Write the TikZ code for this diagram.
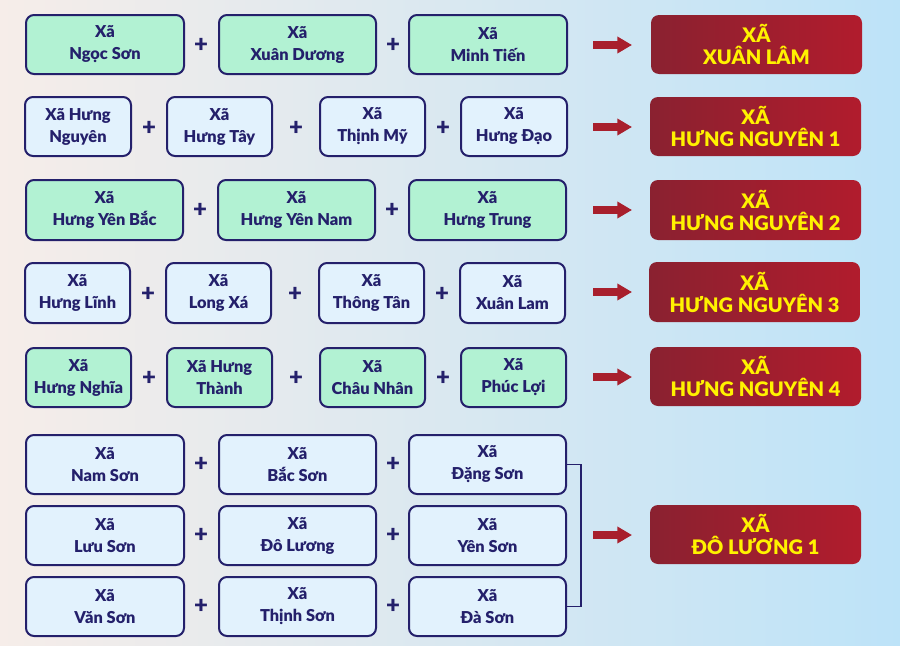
\documentclass[tikz,border=0pt]{standalone}
\usepackage{fontspec}
\setmainfont{Lato}[BoldFont={Lato Black}]
\usetikzlibrary{arrows.meta}
\definecolor{navy}{HTML}{24206B}
\definecolor{mint}{HTML}{B2F2D3}
\definecolor{ice}{HTML}{E2F2FD}
\definecolor{redL}{HTML}{8A2130}
\definecolor{redR}{HTML}{B11C2D}
\definecolor{yel}{HTML}{FFF200}
\definecolor{bgL}{HTML}{F6EDE9}
\definecolor{bgR}{HTML}{BDE3F8}
\definecolor{arr}{HTML}{A81F2C}
\tikzset{
  sbox/.style={draw=navy, line width=1.5pt, rounded corners=6pt, align=center,
    text=navy, inner sep=0pt, font=\bfseries\fontsize{12.3}{16.5}\selectfont},
  gbox/.style={sbox, fill=mint},
  bbox/.style={sbox, fill=ice},
  rbox/.style={rounded corners=6pt, left color=redL, right color=redR, align=center,
    text=yel, inner sep=0pt, font=\bfseries\fontsize{15}{16.5}\selectfont},
  plus/.style={text=navy, inner sep=0pt, font=\bfseries\fontsize{18}{18}\selectfont},
  bigarrow/.style={draw=arr, line width=6pt, -{Triangle[length=11pt,width=12pt]}},
  brk/.style={draw=navy, line width=1.2pt}
}
\newcommand\bx[7]{\node[#2, minimum width={(#5-#3)*0.75pt}, minimum height={(#6-#4)*0.75pt}] (#1) at ({(#3+#5)/2},{(#4+#6)/2}) {#7};}
\newcommand\pl[3]{\node[plus] (#1) at (#2,#3) {+};}
\newcommand\ar[3]{\coordinate (#1s) at (593,#3); \coordinate (#1e) at (632,#3); \draw[bigarrow] (#1s) -- (#1e);}
\begin{document}
\begin{tikzpicture}[x=0.75pt,y=-0.75pt]
\fill[left color=bgL, right color=bgR] (0,0) rectangle (900,646);
\useasboundingbox (0,0) rectangle (900,646);
% Row 1
\bx{r1a}{gbox}{26}{15}{184}{74}{Xã\\Ngọc Sơn}
\bx{r1b}{gbox}{219}{15}{376}{74}{Xã\\Xuân Dương}
\bx{r1c}{gbox}{409}{15}{567}{74}{Xã\\Minh Tiến}
\pl{p1a}{201}{45}\pl{p1b}{393}{45}
\ar{a1}{}{45}
\bx{t1}{rbox}{651}{15}{862}{74}{XÃ\\XUÂN LÂM}
% Row 2
\bx{r2a}{bbox}{25}{97}{131}{156}{Xã Hưng\\Nguyên}
\bx{r2b}{bbox}{167}{97}{272}{156}{Xã\\Hưng Tây}
\bx{r2c}{bbox}{320}{97}{425}{156}{Xã\\Thịnh Mỹ}
\bx{r2d}{bbox}{461}{97}{567}{156}{Xã\\Hưng Đạo}
\pl{p2a}{149}{128}\pl{p2b}{296}{128}\pl{p2c}{443}{128}
\ar{a2}{}{127}
\bx{t2}{rbox}{650}{97}{861}{156}{XÃ\\HƯNG NGUYÊN 1}
% Row 3
\bx{r3a}{gbox}{26}{180}{183}{240}{Xã\\Hưng Yên Bắc}
\bx{r3b}{gbox}{218}{180}{375}{240}{Xã\\Hưng Yên Nam}
\bx{r3c}{gbox}{409}{180}{566}{240}{Xã\\Hưng Trung}
\pl{p3a}{200}{210}\pl{p3b}{392}{210}
\ar{a3}{}{210}
\bx{t3}{rbox}{650}{180}{861}{240}{XÃ\\HƯNG NGUYÊN 2}
% Row 4
\bx{r4a}{bbox}{25}{263}{130}{323}{Xã\\Hưng Lĩnh}
\bx{r4b}{bbox}{166}{263}{271}{323}{Xã\\Long Xá}
\bx{r4c}{bbox}{319}{263}{424}{323}{Xã\\Thông Tân}
\bx{r4d}{bbox}{460}{263}{565}{323}{Xã\\Xuân Lam}
\pl{p4a}{148}{294}\pl{p4b}{295}{294}\pl{p4c}{442}{294}
\ar{a4}{}{292}
\bx{t4}{rbox}{649}{262}{860}{322}{XÃ\\HƯNG NGUYÊN 3}
% Row 5
\bx{r5a}{gbox}{26}{348}{131}{407}{Xã\\Hưng Nghĩa}
\bx{r5b}{gbox}{167}{348}{272}{407}{Xã Hưng\\Thành}
\bx{r5c}{gbox}{320}{348}{425}{407}{Xã\\Châu Nhân}
\bx{r5d}{gbox}{461}{348}{566}{407}{Xã\\Phúc Lợi}
\pl{p5a}{149}{378}\pl{p5b}{296}{378}\pl{p5c}{443}{378}
\ar{a5}{}{377}
\bx{t5}{rbox}{650}{347}{861}{406}{XÃ\\HƯNG NGUYÊN 4}
% Rows 6-8
\bx{r6a}{bbox}{26}{435}{184}{494}{Xã\\Nam Sơn}
\bx{r6b}{bbox}{219}{435}{376}{494}{Xã\\Bắc Sơn}
\bx{r6c}{bbox}{409}{435}{566}{494}{Xã\\Đặng Sơn}
\pl{p6a}{201}{464}\pl{p6b}{393}{464}
\bx{r7a}{bbox}{26}{506}{184}{565}{Xã\\Lưu Sơn}
\bx{r7b}{bbox}{219}{506}{376}{565}{Xã\\Đô Lương}
\bx{r7c}{bbox}{409}{506}{566}{565}{Xã\\Yên Sơn}
\pl{p7a}{201}{535}\pl{p7b}{393}{535}
\bx{r8a}{bbox}{26}{577}{184}{636}{Xã\\Văn Sơn}
\bx{r8b}{bbox}{219}{577}{376}{636}{Xã\\Thịnh Sơn}
\bx{r8c}{bbox}{409}{577}{566}{636}{Xã\\Đà Sơn}
\pl{p8a}{201}{606}\pl{p8b}{393}{606}
\coordinate (bk) at (581,535);
\draw[brk] (r6c.east) -| (bk) |- (r8c.east);
\ar{a6}{}{535}
\bx{t6}{rbox}{650}{505}{861}{564}{XÃ\\ĐÔ LƯƠNG 1}
\end{tikzpicture}
\end{document}
